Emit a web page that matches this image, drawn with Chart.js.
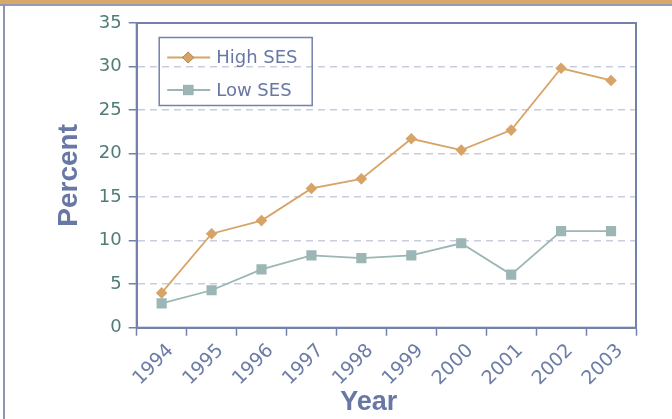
<!DOCTYPE html>
<html>
<head>
<meta charset="utf-8">
<script src="https://cdn.jsdelivr.net/npm/chart.js@4/dist/chart.umd.min.js"></script>
<style>
  body { margin: 0; background: #fff; }
  #wrap { position: relative; width: 672px; height: 419px; overflow: hidden; }
  #band { position: absolute; left: 0; top: 0; width: 672px; height: 4px; background: #d8a868; border-bottom: 2px solid #959bb7; }
  #side { position: absolute; left: 3px; top: 4px; width: 2px; height: 415px; background: #8d93b1; }
  canvas { position: absolute; left: 0; top: 0; }
</style>
</head>
<body>
<div id="wrap">
  <div id="band"></div>
  <div id="side"></div>
  <canvas id="sesChart" width="672" height="419"></canvas>
</div>
<script>
const years = ['1994', '1995', '1996', '1997', '1998', '1999', '2000', '2001', '2002', '2003'];
const highSES = [4.0, 10.8, 12.3, 16.0, 17.1, 21.7, 20.4, 22.7, 29.8, 28.4];
const lowSES = [2.8, 4.3, 6.7, 8.3, 8.0, 8.3, 9.7, 6.1, 11.1, 11.1];
const yMin = 0, yMax = 35, yStep = 5;

const axisColor = '#7282ab';
const gridColor = '#c9cbdf';
const yTickColor = '#4f7c77';
const xTickColor = '#6d7ca6';
const titleColor = '#6877a3';
const highColor = '#d7a468';
const lowColor = '#9bb6b4';

// box around the plot (top + right sides)
const plotFrame = {
    id: 'plotFrame',
    beforeDatasetsDraw(chart) {
        const { ctx, chartArea: a } = chart;
        ctx.save();
        ctx.strokeStyle = axisColor;
        ctx.lineWidth = 2;
        ctx.strokeRect(a.left, a.top, a.right - a.left, a.bottom - a.top);
        ctx.restore();
    }
};

// legend in a framed box, plus the x axis title
const boxedLegend = {
    id: 'boxedLegend',
    afterDraw(chart) {
        const { ctx, chartArea: a } = chart;
        const bx = a.left + 22.5, by = a.top + 14.5, bw = 153, bh = 68;
        ctx.save();
        ctx.strokeStyle = axisColor;
        ctx.lineWidth = 1.5;
        ctx.strokeRect(bx, by, bw, bh);

        chart.data.datasets.forEach((ds, i) => {
            const y = by + 20 + i * 32.5;
            ctx.strokeStyle = ds.borderColor;
            ctx.lineWidth = ds.borderWidth;
            ctx.beginPath();
            ctx.moveTo(bx + 8, y);
            ctx.lineTo(bx + 51, y);
            ctx.stroke();
            Chart.helpers.drawPoint(ctx, {
                pointStyle: ds.pointStyle,
                radius: ds.pointRadius,
                rotation: 0,
                borderWidth: 0
            }, bx + 29, y);
            ctx.fillStyle = ds.backgroundColor;
            ctx.fill();

            ctx.fillStyle = titleColor;
            ctx.font = '18px "DejaVu Sans"';
            ctx.textBaseline = 'middle';
            ctx.textAlign = 'left';
            ctx.fillText(ds.label, bx + 57, y + 1);
        });

        ctx.fillStyle = titleColor;
        ctx.font = 'bold 27px "Liberation Sans"';
        ctx.textAlign = 'center';
        ctx.textBaseline = 'middle';
        ctx.fillText('Year', a.left + 232, 403);
        ctx.restore();
    }
};

new Chart(document.getElementById('sesChart'), {
    type: 'line',
    data: {
        labels: years,
        datasets: [
            {
                label: 'High SES',
                data: highSES,
                borderColor: highColor,
                backgroundColor: highColor,
                borderWidth: 1.8,
                pointStyle: 'rectRot',
                pointRadius: 5.8,
                pointBorderWidth: 0,
                tension: 0
            },
            {
                label: 'Low SES',
                data: lowSES,
                borderColor: lowColor,
                backgroundColor: lowColor,
                borderWidth: 1.8,
                pointStyle: 'rect',
                pointRadius: 7.2,
                pointBorderWidth: 0,
                tension: 0
            }
        ]
    },
    options: {
        responsive: false,
        animation: false,
        layout: { padding: { top: 23, right: 36, left: 0, bottom: 0 } },
        plugins: {
            legend: { display: false },
            tooltip: { enabled: false }
        },
        scales: {
            x: {
                offset: true,
                grid: {
                    offset: true,
                    drawOnChartArea: false,
                    tickLength: 8,
                    tickColor: axisColor,
                    tickWidth: 1.5
                },
                border: { color: axisColor, width: 2 },
                ticks: {
                    color: xTickColor,
                    font: { family: 'DejaVu Sans', size: 19 },
                    minRotation: 45,
                    maxRotation: 45,
                    padding: 4,
                    labelOffset: 9
                },
                afterFit: s => { s.height = 91.3; }
            },
            y: {
                min: yMin,
                max: yMax,
                ticks: {
                    stepSize: yStep,
                    color: yTickColor,
                    font: { family: 'DejaVu Sans', size: 18 },
                    padding: 7
                },
                grid: {
                    color: c => (c.tick && (c.tick.value === yMin || c.tick.value === yMax)) ? 'rgba(0,0,0,0)' : gridColor,
                    lineWidth: 1.5,
                    tickLength: 8,
                    tickColor: axisColor,
                    tickWidth: 1.5
                },
                border: { color: axisColor, width: 2, dash: [7, 5] },
                title: {
                    display: true,
                    text: 'Percent',
                    color: titleColor,
                    font: { family: 'Liberation Sans', size: 28, weight: 'bold' },
                    padding: { top: 52, bottom: 0 }
                },
                afterFit: s => { s.width = 136.7; }
            }
        }
    },
    plugins: [plotFrame, boxedLegend]
});
</script>
</body>
</html>
